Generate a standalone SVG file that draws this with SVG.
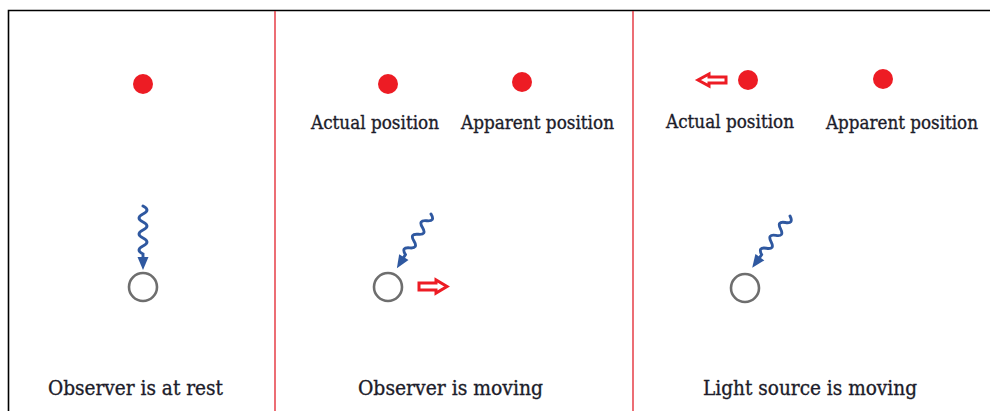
<svg xmlns="http://www.w3.org/2000/svg" xmlns:xlink="http://www.w3.org/1999/xlink" width="990" height="411" viewBox="0 0 990 411">
  <style>
    .frame { stroke: #000; stroke-width: 1.6; fill: none; }
    .divider { stroke: #e2202a; stroke-width: 1.3; }
    .star { fill: #ed1c24; }
    .observer { fill: none; stroke: #6e6e6e; stroke-width: 2.6; }
    .label { font-family: "DejaVu Serif", "Liberation Serif", serif; fill: #1c1c2a; stroke: #1c1c2a; stroke-width: 0.35; }
    .small { font-size: 18px; }
    .big { font-size: 19.5px; }
    .motion { fill: #fff; stroke: #ed1c24; stroke-width: 3; stroke-linejoin: miter; }
  </style>
  <defs>
    <!-- light ray: wavy line along +x ending in an arrowhead at x=64 -->
    <g id="ray">
      <path d="M0,0 q4,-8 8,0 t8,0 t8,0 t8,0 t8,0 t8,0 L53,0" fill="none" stroke="#2f58a0" stroke-width="2.9" stroke-linecap="round"/>
      <polygon points="51,-5.5 64,0 51,5.5" fill="#2f58a0"/>
    </g>
  </defs>

  <rect width="990" height="411" fill="#fff"/>

  <!-- outer frame and panel dividers -->
  <path class="frame" d="M8.5,411 V10.5 H990"/>
  <line class="divider" x1="275" y1="11" x2="275" y2="411"/>
  <line class="divider" x1="633" y1="11" x2="633" y2="411"/>

  <!-- panel 1: observer at rest -->
  <g id="panel-rest">
    <circle class="star" cx="143" cy="84" r="10"/>
    <use xlink:href="#ray" transform="translate(143,206) rotate(90)"/>
    <circle class="observer" cx="143" cy="287" r="14"/>
    <text class="label big" x="48" y="395" textLength="175" lengthAdjust="spacingAndGlyphs">Observer is at rest</text>
  </g>

  <!-- panel 2: observer moving -->
  <g id="panel-observer-moving">
    <circle class="star" cx="388" cy="84" r="10"/>
    <circle class="star" cx="522" cy="82" r="10"/>
    <text class="label small" x="311" y="129" textLength="128" lengthAdjust="spacingAndGlyphs">Actual position</text>
    <text class="label small" x="461" y="129" textLength="153" lengthAdjust="spacingAndGlyphs">Apparent position</text>
    <use xlink:href="#ray" transform="translate(431,214) rotate(122.2)"/>
    <circle class="observer" cx="388" cy="287" r="14"/>
    <polygon class="motion" points="419,283 436,283 436,280 447,286.5 436,293 436,290 419,290"/>
    <text class="label big" x="358" y="395" textLength="185" lengthAdjust="spacingAndGlyphs">Observer is moving</text>
  </g>

  <!-- panel 3: light source moving -->
  <g id="panel-source-moving">
    <circle class="star" cx="748" cy="80" r="10"/>
    <circle class="star" cx="883" cy="79" r="10"/>
    <polygon class="motion" points="726,77 709,77 709,74 698,80 709,86 709,83 726,83"/>
    <text class="label small" x="666" y="128" textLength="128" lengthAdjust="spacingAndGlyphs">Actual position</text>
    <text class="label small" x="826" y="129" textLength="152" lengthAdjust="spacingAndGlyphs">Apparent position</text>
    <use xlink:href="#ray" transform="translate(790,216) rotate(126.2)"/>
    <circle class="observer" cx="745" cy="288" r="14"/>
    <text class="label big" x="703" y="395" textLength="214" lengthAdjust="spacingAndGlyphs">Light source is moving</text>
  </g>
</svg>
